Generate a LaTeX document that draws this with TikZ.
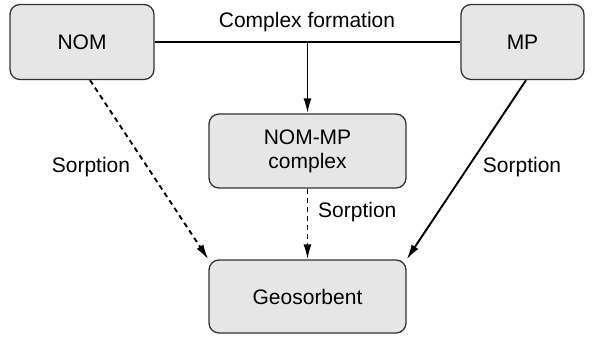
\documentclass[tikz,border=0pt]{standalone}
\usepackage{fontspec}
\setmainfont{Liberation Sans}
\usetikzlibrary{arrows.meta}
\definecolor{boxfill}{HTML}{E6E6E6}
\definecolor{boxline}{HTML}{333333}
\begin{document}
\begin{tikzpicture}[x=1pt,y=-1pt,
  box/.style={draw=boxline,fill=boxfill,line width=1.3pt,rounded corners=10pt,
    minimum width=#1,align=center,inner sep=0pt},
  lbl/.style={font=\fontsize{21}{25}\selectfont,inner sep=0pt},
  conn/.style={line width=1.9pt,-{Latex[length=15pt,width=8pt]}},
  dsh/.style={dash pattern=on 5pt off 4pt}]
\useasboundingbox (0,0) rectangle (594,337);
\node[box=144pt,minimum height=75pt,lbl] (nom) at (82,42) {NOM};
\node[box=123pt,minimum height=75pt,lbl] (mp) at (522.5,42) {MP};
\node[box=197pt,minimum height=74pt,lbl] (cx) at (307.5,151) {NOM-MP\\[-1pt]complex};
\node[box=197pt,minimum height=73pt,lbl] (geo) at (307.5,296.5) {Geosorbent};
\coordinate (cf) at (307.5,42);
\draw[line width=1.9pt] (nom.east) -- (mp.west);
\draw[conn] (cf) -- (cx.north);
\node[lbl] (cflbl) at (307,22) {Complex formation};
\draw[conn,dsh] ([xshift=8pt]nom.south) -- (geo.north west);
\draw[conn] ([xshift=3.5pt]mp.south) -- (geo.north east);
\draw[conn,dsh] (cx.south) -- (geo.north);
\node[lbl] (s1) at (91,167) {Sorption};
\node[lbl] (s2) at (522,167) {Sorption};
\node[lbl,anchor=west] (s3) at (318,212) {Sorption};
\end{tikzpicture}
\end{document}
